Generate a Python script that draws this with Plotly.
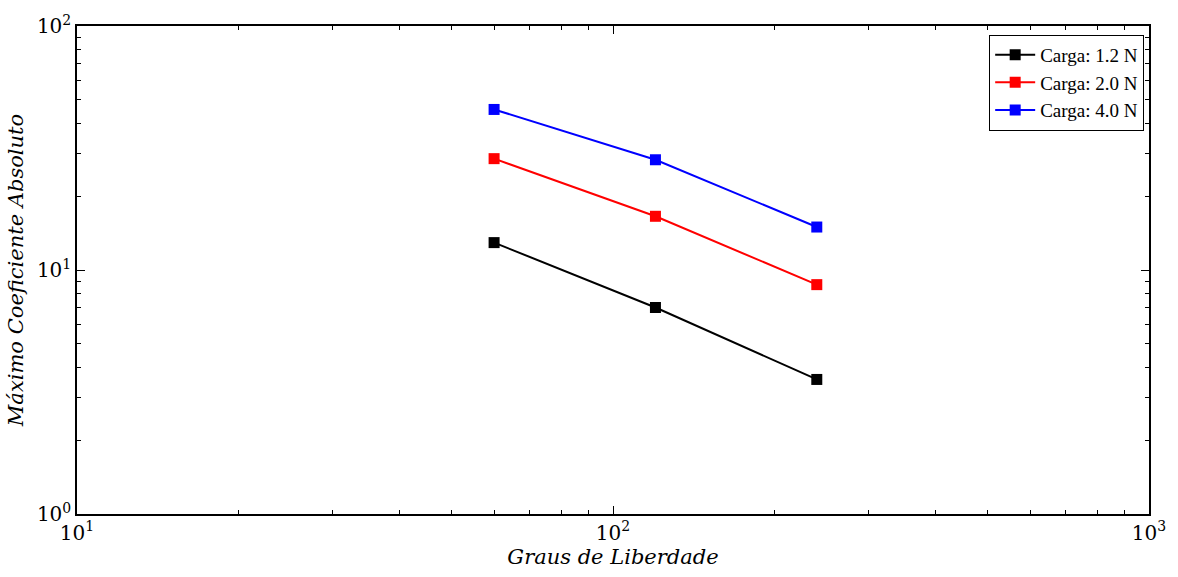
import plotly.graph_objects as go

graus = [60, 120, 240]
carga_12 = [12.95, 7.02, 3.56]
carga_20 = [28.6, 16.6, 8.71]
carga_40 = [45.5, 28.3, 15.0]
series_names = ["Carga: 1.2 N", "Carga: 2.0 N", "Carga: 4.0 N"]
colors = ["#000000", "#ff0000", "#0000ff"]

x_major = [10, 100, 1000]
x_major_text = ["10<sup>1</sup>", "10<sup>2</sup>", "10<sup>3</sup>"]
y_major = [1, 10, 100]
y_major_text = ["10<sup>0</sup>", "10<sup>1</sup>", "10<sup>2</sup>"]

x_minor = [m * d for d in (10, 100) for m in range(2, 10)]
y_minor = [m * d for d in (1, 10) for m in range(2, 10)]

font_family = "DejaVu Serif, Liberation Serif, serif"
legend_family = "Liberation Serif, DejaVu Serif, serif"

fig = go.Figure()
for name, vals, c in zip(series_names, [carga_12, carga_20, carga_40], colors):
    fig.add_trace(go.Scatter(
        x=graus, y=vals, name=name, mode="lines+markers",
        line=dict(color=c, width=2),
        marker=dict(symbol="square", size=11, color=c),
    ))

axis_common = dict(
    type="log", showgrid=False, zeroline=False,
    showline=True, linecolor="black", linewidth=1.5, mirror="allticks",
    ticks="inside", ticklen=8, tickcolor="black", tickwidth=1,
    tickfont=dict(family=font_family, size=20, color="black"),
)

fig.update_xaxes(
    **axis_common, range=[1, 3], tickvals=x_major, ticktext=x_major_text,
    minor=dict(tickvals=x_minor, ticks="inside", ticklen=4, tickcolor="black", tickwidth=1),
    title=dict(text="<i>Graus de Liberdade</i>", font=dict(family=font_family, size=21, color="black"), standoff=6),
)
fig.update_yaxes(
    **axis_common, range=[0, 2], tickvals=y_major, ticktext=y_major_text,
    minor=dict(tickvals=y_minor, ticks="inside", ticklen=4, tickcolor="black", tickwidth=1),
    title=dict(text="<i>Máximo Coeficiente Absoluto</i>", font=dict(family=font_family, size=21, color="black"), standoff=8),
)

fig.update_layout(
    width=1178, height=577,
    margin=dict(l=77, r=21, t=25, b=63),
    plot_bgcolor="white", paper_bgcolor="white",
    legend=dict(
        x=0.9955, y=0.982, xanchor="right", yanchor="top",
        bgcolor="white", bordercolor="black", borderwidth=1,
        font=dict(family=legend_family, size=19, color="black"),
        tracegroupgap=0, itemwidth=40,
    ),
    showlegend=True,
)

fig.write_html("out.html")
